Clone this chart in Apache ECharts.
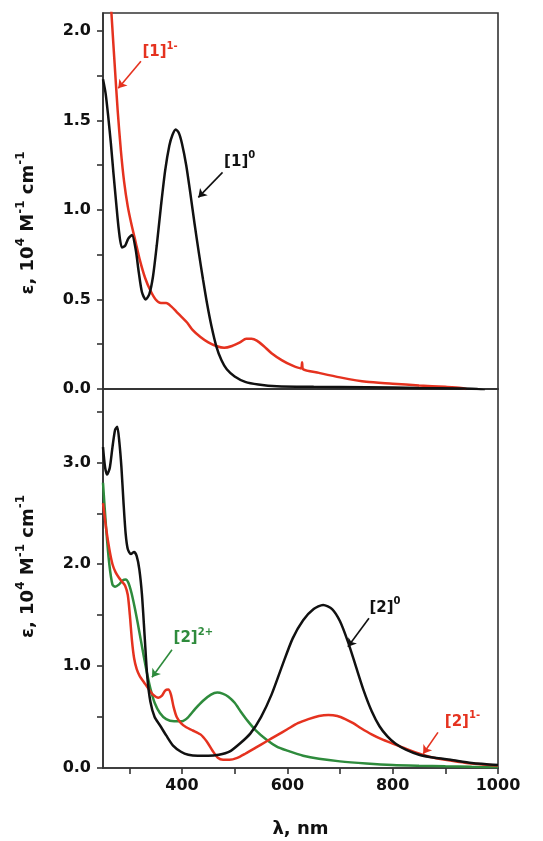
<!DOCTYPE html>
<html>
<head>
<meta charset="utf-8">
<script src="https://cdn.jsdelivr.net/npm/echarts@6/dist/echarts.min.js"></script>
<style>
  html, body { margin: 0; padding: 0; background: #ffffff; }
  #chart { width: 543px; height: 841px; }
</style>
</head>
<body>
<div id="chart"></div>
<script>
// top panel, complex 1
const lambda1Neutral = [250, 255, 260, 265, 270, 275, 280, 286, 292, 298, 305, 312, 318, 324, 331, 338, 345, 352, 360, 368, 376, 382, 388, 394, 400, 408, 416, 424, 432, 440, 448, 456, 465, 475, 485, 500, 520, 545, 580, 650, 750, 850, 930, 960, 975];
const eps1Neutral = [1.73, 1.65, 1.52, 1.37, 1.20, 1.04, 0.89, 0.79, 0.80, 0.84, 0.86, 0.78, 0.65, 0.54, 0.50, 0.53, 0.63, 0.80, 1.02, 1.22, 1.36, 1.42, 1.45, 1.43, 1.37, 1.25, 1.09, 0.92, 0.76, 0.61, 0.47, 0.35, 0.24, 0.16, 0.11, 0.07, 0.04, 0.025, 0.015, 0.012, 0.01, 0.006, 0.003, 0.0, -0.01];

const lambda1Anion = [250, 258, 266, 272, 278, 284, 290, 297, 304, 312, 320, 330, 340, 350, 360, 370, 380, 390, 400, 410, 420, 435, 450, 465, 480, 495, 510, 522, 532, 542, 555, 570, 590, 610, 626, 628, 630, 660, 700, 750, 800, 850, 900, 930, 940];
const eps1Anion = [2.9, 2.5, 2.1, 1.82, 1.55, 1.33, 1.16, 1.02, 0.92, 0.82, 0.72, 0.62, 0.55, 0.50, 0.48, 0.48, 0.46, 0.43, 0.40, 0.37, 0.33, 0.29, 0.26, 0.24, 0.23, 0.24, 0.26, 0.28, 0.28, 0.27, 0.24, 0.20, 0.16, 0.13, 0.115, 0.15, 0.11, 0.09, 0.065, 0.04, 0.03, 0.02, 0.012, 0.006, 0.0];

// bottom panel, complex 2
const lambda2Neutral = [250, 254, 258, 263, 268, 273, 277, 281, 285, 289, 293, 297, 303, 309, 314, 319, 324, 329, 334, 340, 348, 358, 370, 383, 398, 412, 430, 450, 470, 490, 510, 530, 550, 570, 590, 610, 630, 650, 668, 685, 700, 715, 730, 745, 760, 775, 790, 805, 825, 850, 880, 910, 950, 1000];
const eps2Neutral = [3.15, 2.95, 2.88, 2.95, 3.15, 3.32, 3.35, 3.2, 2.95, 2.6, 2.3, 2.15, 2.1, 2.12, 2.08, 1.95, 1.7, 1.3, 0.9, 0.65, 0.5, 0.42, 0.32, 0.22, 0.16, 0.13, 0.12, 0.12, 0.13, 0.16, 0.24, 0.34, 0.5, 0.72, 1.0, 1.27, 1.45, 1.56, 1.60, 1.56, 1.44, 1.24, 1.0, 0.76, 0.56, 0.41, 0.31, 0.24, 0.18, 0.13, 0.1, 0.08, 0.05, 0.03];

const lambda2Dication = [250, 256, 262, 268, 273, 280, 287, 293, 298, 304, 310, 316, 322, 328, 334, 340, 348, 358, 370, 385, 400, 412, 425, 440, 455, 467, 477, 488, 500, 512, 525, 540, 560, 580, 600, 630, 660, 700, 750, 800, 850, 900, 950, 1000];
const eps2Dication = [2.8, 2.35, 2.0, 1.8, 1.78, 1.8, 1.84, 1.85, 1.82, 1.72, 1.58, 1.42, 1.25, 1.08, 0.92, 0.78, 0.64, 0.54, 0.48, 0.46, 0.46, 0.5, 0.58, 0.66, 0.72, 0.74, 0.73, 0.7, 0.64, 0.55, 0.46, 0.37, 0.28, 0.21, 0.17, 0.12, 0.09, 0.065, 0.045, 0.03, 0.022, 0.016, 0.012, 0.01];

const lambda2Anion = [250, 256, 262, 268, 274, 280, 286, 292, 297, 301, 305, 309, 314, 320, 328, 336, 345, 355, 362, 368, 374, 379, 384, 390, 398, 408, 420, 435, 447, 458, 468, 478, 490, 505, 520, 540, 560, 580, 600, 620, 640, 660, 678, 695, 710, 725, 740, 760, 780, 800, 820, 845, 870, 900, 940, 1000];
const eps2Anion = [2.6, 2.35, 2.15, 2.0, 1.92, 1.87, 1.83, 1.79, 1.7, 1.5, 1.25, 1.08, 0.97, 0.9, 0.84, 0.78, 0.72, 0.69, 0.71, 0.76, 0.77, 0.72, 0.6, 0.5, 0.44, 0.4, 0.37, 0.33, 0.26, 0.17, 0.1, 0.08, 0.08, 0.1, 0.14, 0.2, 0.26, 0.32, 0.38, 0.44, 0.48, 0.51, 0.52, 0.51, 0.48, 0.44, 0.39, 0.33, 0.28, 0.24, 0.2, 0.15, 0.11, 0.08, 0.05, 0.025];

// ticks and labels
const xTicks = [300, 400, 500, 600, 700, 800, 900, 1000];
const xLabels = [400, 600, 800, 1000];
const yTicksTop = [0, 0.25, 0.5, 0.75, 1.0, 1.25, 1.5, 1.75, 2.0];
const yLabelsTop = [0, 0.5, 1.0, 1.5, 2.0];
const yTicksBottom = [0, 0.5, 1.0, 1.5, 2.0, 2.5, 3.0, 3.5];
const yLabelsBottom = [0, 1.0, 2.0, 3.0];

// annotations: [text anchor λ, ε, arrow start λ, ε, arrow end λ, ε]
const note1Anion = [324, 1.89, 322, 1.83, 279, 1.68];
const note1Neutral = [479, 1.28, 477, 1.21, 431, 1.07];
const note2Neutral = [755, 1.59, 755, 1.47, 715, 1.19];
const note2Dication = [383, 1.29, 381, 1.16, 343, 0.89];
const note2Anion = [898, 0.47, 886, 0.35, 858, 0.14];

const BLACK = "#111111";
const RED = "#e5321f";
const GREEN = "#2e8b3c";
const FONT = "'DejaVu Sans', 'Liberation Sans', Arial, sans-serif";

const chart = echarts.init(document.getElementById("chart"));

function pairs(xs, ys) {
  return xs.map((x, i) => [x, ys[i]]);
}

function richStyles(color) {
  return {
    b: { fontSize: 15, fontWeight: "bold", color: color, fontFamily: FONT, lineHeight: 19, verticalAlign: "bottom" },
    s: { fontSize: 10, fontWeight: "bold", color: color, fontFamily: FONT, lineHeight: 10, verticalAlign: "top" },
  };
}

function makeSeries(xs, ys, color, axis, note, label) {
  return {
    type: "line",
    xAxisIndex: axis,
    yAxisIndex: axis,
    data: pairs(xs, ys),
    showSymbol: false,
    smooth: 0.25,
    lineStyle: { color: color, width: 2.5 },
    itemStyle: { color: color },
    z: 3,
    markLine: {
      silent: true,
      animation: false,
      symbol: ["none", "arrow"],
      symbolSize: 8,
      lineStyle: { color: color, width: 1.6, type: "solid" },
      label: { show: false },
      data: [[{ coord: [note[2], note[3]] }, { coord: [note[4], note[5]] }]],
    },
    markPoint: {
      silent: true,
      animation: false,
      symbol: "circle",
      symbolSize: 1,
      itemStyle: { color: "rgba(0,0,0,0)" },
      label: {
        show: true,
        position: "right",
        distance: 0,
        formatter: label,
        rich: richStyles(color),
      },
      data: [{ coord: [note[0], note[1]] }],
    },
  };
}

const axisLineStyle = { color: "#333333", width: 1.6 };
const labelStyle = { fontSize: 16, fontWeight: "bold", color: BLACK, fontFamily: FONT };
const nameRich = {
  b: { fontSize: 18, fontWeight: "bold", color: BLACK, fontFamily: FONT, lineHeight: 22, verticalAlign: "bottom" },
  s: { fontSize: 12, fontWeight: "bold", color: BLACK, fontFamily: FONT, lineHeight: 12, verticalAlign: "top" },
};
const yName = "{b|ε, 10}{s|4}{b| M}{s|-1}{b| cm}{s|-1}";

const option = {
  animation: false,
  backgroundColor: "#ffffff",
  grid: [
    { left: 103, top: 13, width: 395, height: 376, show: true, borderColor: "#333333", borderWidth: 1.6, backgroundColor: "transparent" },
    { left: 103, top: 389, width: 395, height: 379, show: true, borderColor: "#333333", borderWidth: 1.6, backgroundColor: "transparent" },
  ],
  xAxis: [
    {
      gridIndex: 0,
      type: "value",
      min: 250,
      max: 1000,
      axisLine: { show: true, lineStyle: axisLineStyle },
      axisTick: { show: false },
      axisLabel: { show: false },
      splitLine: { show: false },
    },
    {
      gridIndex: 1,
      type: "value",
      min: 250,
      max: 1000,
      axisLine: { show: true, lineStyle: axisLineStyle },
      axisTick: { show: true, length: 6, lineStyle: axisLineStyle, customValues: xTicks },
      axisLabel: { ...labelStyle, margin: 10, customValues: xLabels, formatter: (v) => String(v) },
      splitLine: { show: false },
      name: "λ, nm",
      nameLocation: "middle",
      nameGap: 52,
      nameTextStyle: { fontSize: 18, fontWeight: "bold", color: BLACK, fontFamily: FONT },
    },
  ],
  yAxis: [
    {
      gridIndex: 0,
      type: "value",
      min: 0,
      max: 2.1,
      axisLine: { show: true, lineStyle: axisLineStyle },
      axisTick: { show: true, length: 6, lineStyle: axisLineStyle, customValues: yTicksTop },
      axisLabel: { ...labelStyle, margin: 12, customValues: yLabelsTop, formatter: (v) => v.toFixed(1) },
      splitLine: { show: false },
      name: yName,
      nameLocation: "middle",
      nameGap: 66,
      nameTextStyle: { rich: nameRich, padding: [0, 44, 0, 0] },
    },
    {
      gridIndex: 1,
      type: "value",
      min: 0,
      max: 3.72,
      axisLine: { show: true, lineStyle: axisLineStyle },
      axisTick: { show: true, length: 6, lineStyle: axisLineStyle, customValues: yTicksBottom },
      axisLabel: { ...labelStyle, margin: 12, customValues: yLabelsBottom, formatter: (v) => v.toFixed(1) },
      splitLine: { show: false },
      name: yName,
      nameLocation: "middle",
      nameGap: 66,
      nameTextStyle: { rich: nameRich, padding: [0, 0, 0, 24] },
    },
  ],
  series: [
    makeSeries(lambda1Anion, eps1Anion, RED, 0, note1Anion, "{b|[1]}{s|1-}"),
    makeSeries(lambda1Neutral, eps1Neutral, BLACK, 0, note1Neutral, "{b|[1]}{s|0}"),
    makeSeries(lambda2Dication, eps2Dication, GREEN, 1, note2Dication, "{b|[2]}{s|2+}"),
    makeSeries(lambda2Anion, eps2Anion, RED, 1, note2Anion, "{b|[2]}{s|1-}"),
    makeSeries(lambda2Neutral, eps2Neutral, BLACK, 1, note2Neutral, "{b|[2]}{s|0}"),
  ],
};

chart.setOption(option);
</script>
</body>
</html>
